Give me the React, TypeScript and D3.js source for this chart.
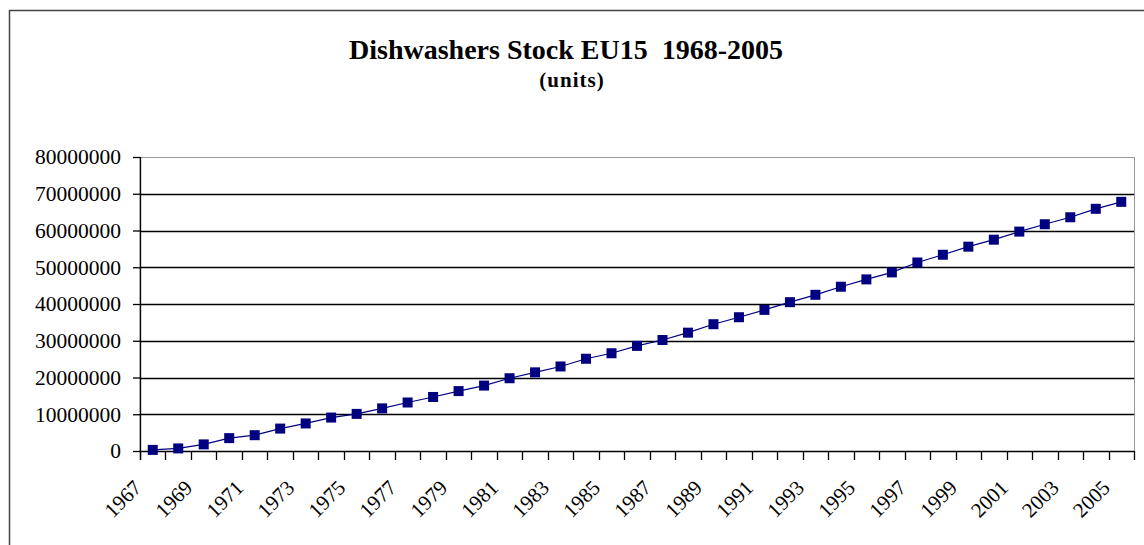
import React, { useRef, useEffect } from 'react';
import * as d3 from 'd3';

const years: number[] = d3.range(1967, 2006);

// dishwasher stock, units
const stock: number[] = [
  300000, 700000, 1800000, 3500000, 4300000, 6100000, 7500000, 9100000,
  10100000, 11600000, 13200000, 14700000, 16300000, 17800000, 19800000,
  21400000, 23000000, 25100000, 26600000, 28600000, 30200000, 32200000,
  34500000, 36400000, 38400000, 40500000, 42500000, 44700000, 46700000,
  48600000, 51300000, 53400000, 55600000, 57500000, 59700000, 61700000,
  63600000, 65900000, 67800000,
];

const yTicks: number[] = [0, 10000000, 20000000, 30000000, 40000000, 50000000, 60000000, 70000000, 80000000];

const title = 'Dishwashers Stock EU15  1968-2005';
const subtitle = '(units)';

const dims = {
  width: 1144,
  height: 545,
  left: 140,
  right: 1134,
  top: 157,
  bottom: 451,
};

const serif = "'Liberation Serif', 'Times New Roman', serif";

const App = () => {
  const svgRef = useRef<SVGSVGElement>(null);

  useEffect(() => {
    const svg = d3.select(svgRef.current);
    svg.selectAll('*').remove();

    const x = d3
      .scaleBand<number>()
      .domain(years)
      .range([dims.left, dims.right])
      .padding(0);
    const y = d3.scaleLinear().domain([0, 80000000]).range([dims.bottom, dims.top]);
    const cx = (yr: number) => (x(yr) as number) + x.bandwidth() / 2;

    // outer frame
    svg
      .append('path')
      .attr('d', `M9.5,${dims.height} V10.5 H${dims.width}`)
      .attr('fill', 'none')
      .attr('stroke', '#444')
      .attr('stroke-width', 1.5);

    // titles
    svg
      .append('text')
      .attr('x', 566)
      .attr('y', 59)
      .attr('text-anchor', 'middle')
      .style('font', `bold 28px ${serif}`)
      .style('white-space', 'pre')
      .text(title);
    svg
      .append('text')
      .attr('x', 572)
      .attr('y', 87)
      .attr('text-anchor', 'middle')
      .style('font', `bold 21px ${serif}`)
      .style('letter-spacing', '1px')
      .text(subtitle);

    // plot area border
    svg
      .append('rect')
      .attr('x', dims.left)
      .attr('y', dims.top + 0.5)
      .attr('width', dims.right - dims.left + 0.5)
      .attr('height', dims.bottom - dims.top)
      .attr('fill', 'none')
      .attr('stroke', '#999')
      .attr('stroke-width', 1);

    // gridlines
    svg
      .append('g')
      .selectAll('line')
      .data(yTicks.filter((t) => t > 0 && t < 80000000))
      .join('line')
      .attr('x1', dims.left)
      .attr('x2', dims.right)
      .attr('y1', (d) => Math.round(y(d)) + 0.5)
      .attr('y2', (d) => Math.round(y(d)) + 0.5)
      .attr('stroke', '#000')
      .attr('stroke-width', 1.3);

    // y axis
    const yAxis = d3
      .axisLeft(y)
      .tickValues(yTicks)
      .tickSize(7)
      .tickPadding(12)
      .tickFormat(d3.format('d'));
    const yg = svg.append('g').attr('transform', `translate(${dims.left},0)`).call(yAxis);
    yg.select('.domain').remove();
    yg.selectAll('line').attr('stroke', '#000').attr('stroke-width', 1.3);
    yg.selectAll('text')
      .attr('fill', '#000')
      .style('font', `21.5px ${serif}`);
    svg
      .append('line')
      .attr('x1', dims.left + 0.5)
      .attr('x2', dims.left + 0.5)
      .attr('y1', dims.top)
      .attr('y2', dims.bottom + 9)
      .attr('stroke', '#000')
      .attr('stroke-width', 1.3);

    // x axis line + ticks at category boundaries
    svg
      .append('line')
      .attr('x1', dims.left)
      .attr('x2', dims.right)
      .attr('y1', dims.bottom + 0.5)
      .attr('y2', dims.bottom + 0.5)
      .attr('stroke', '#000')
      .attr('stroke-width', 1.3);
    const bounds = years.map((yr) => x(yr) as number).concat([dims.right]);
    svg
      .append('g')
      .selectAll('line')
      .data(bounds)
      .join('line')
      .attr('x1', (d) => Math.round(d) + 0.5)
      .attr('x2', (d) => Math.round(d) + 0.5)
      .attr('y1', dims.bottom)
      .attr('y2', dims.bottom + 9)
      .attr('stroke', '#000')
      .attr('stroke-width', 1.3);

    // x labels, every second year
    svg
      .append('g')
      .selectAll('text')
      .data(years.filter((_, i) => i % 2 === 0))
      .join('text')
      .attr('transform', (d) => `translate(${cx(d) - 10},489) rotate(-45)`)
      .attr('text-anchor', 'end')
      .style('font', `21px ${serif}`)
      .text((d) => String(d));

    // series line
    const lineGen = d3
      .line<number>()
      .x((_, i) => cx(years[i]))
      .y((d) => y(d));
    svg
      .append('path')
      .datum(stock)
      .attr('d', lineGen)
      .attr('fill', 'none')
      .attr('stroke', '#000080')
      .attr('stroke-width', 1.2);

    // markers
    svg
      .append('g')
      .selectAll('rect')
      .data(stock)
      .join('rect')
      .attr('x', (_, i) => cx(years[i]) - 5)
      .attr('y', (d) => y(d) - 5)
      .attr('width', 10)
      .attr('height', 10)
      .attr('fill', '#000080');
  }, []);

  return (
    <svg
      ref={svgRef}
      width={dims.width}
      height={dims.height}
      style={{ position: 'absolute', left: 0, top: 0, background: '#fff' }}
    ></svg>
  );
};

export default App;
